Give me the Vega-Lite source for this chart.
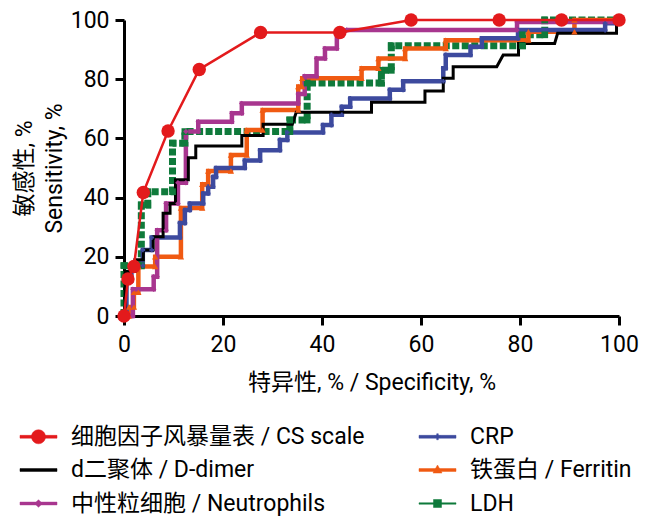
{
  "$schema": "https://vega.github.io/schema/vega-lite/v6.json",
  "width": 495,
  "height": 296,
  "autosize": "none",
  "padding": {"left": 124, "top": 20, "right": 31, "bottom": 205},
  "config": {
    "font": "Roboto, 'Noto Sans CJK SC'",
    "view": {"stroke": null},
    "axis": {
      "grid": false,
      "domainColor": "#000000",
      "domainWidth": 3,
      "tickColor": "#000000",
      "tickWidth": 3,
      "tickSize": 9,
      "labelFontSize": 23,
      "labelColor": "#000000",
      "labelFlush": false,
      "labelOverlap": false,
      "titleFontSize": 23,
      "titleFontWeight": "normal",
      "titleColor": "#000000"
    }
  },
  "data": {"values": [
    {"s":"LDH","i":0,"x":0,"y":0},{"s":"LDH","i":1,"x":0,"y":17},{"s":"LDH","i":2,"x":3.5,"y":17},{"s":"LDH","i":3,"x":3.5,"y":37.5},{"s":"LDH","i":4,"x":4.8,"y":37.5},{"s":"LDH","i":5,"x":4.8,"y":42},{"s":"LDH","i":6,"x":9.8,"y":42},{"s":"LDH","i":7,"x":9.8,"y":58.4},{"s":"LDH","i":8,"x":12.3,"y":58.4},{"s":"LDH","i":9,"x":12.3,"y":62.3},{"s":"LDH","i":10,"x":33.5,"y":62.3},{"s":"LDH","i":11,"x":33.5,"y":66.2},{"s":"LDH","i":12,"x":37,"y":66.2},{"s":"LDH","i":13,"x":37,"y":78.7},{"s":"LDH","i":14,"x":52,"y":78.7},{"s":"LDH","i":15,"x":52,"y":83},{"s":"LDH","i":16,"x":54,"y":83},{"s":"LDH","i":17,"x":54,"y":91.3},{"s":"LDH","i":18,"x":80.5,"y":91.3},{"s":"LDH","i":19,"x":80.5,"y":95},{"s":"LDH","i":20,"x":85,"y":95},{"s":"LDH","i":21,"x":85,"y":100},{"s":"LDH","i":22,"x":100,"y":100},

    {"s":"FE","i":0,"x":0,"y":0},{"s":"FE","i":1,"x":1,"y":0},{"s":"FE","i":2,"x":1,"y":3},{"s":"FE","i":3,"x":2,"y":3},{"s":"FE","i":4,"x":2,"y":8},{"s":"FE","i":5,"x":2.9,"y":8},{"s":"FE","i":6,"x":2.9,"y":16.7},{"s":"FE","i":7,"x":6.3,"y":16.7},{"s":"FE","i":8,"x":6.3,"y":20},{"s":"FE","i":9,"x":11.5,"y":20},{"s":"FE","i":10,"x":11.5,"y":36.5},{"s":"FE","i":11,"x":15.8,"y":36.5},{"s":"FE","i":12,"x":15.8,"y":44.5},{"s":"FE","i":13,"x":17,"y":44.5},{"s":"FE","i":14,"x":17,"y":49},{"s":"FE","i":15,"x":21.6,"y":49},{"s":"FE","i":16,"x":21.6,"y":54.4},{"s":"FE","i":17,"x":24.8,"y":54.4},{"s":"FE","i":18,"x":24.8,"y":62.8},{"s":"FE","i":19,"x":28,"y":62.8},{"s":"FE","i":20,"x":28,"y":69.6},{"s":"FE","i":21,"x":35.2,"y":69.6},{"s":"FE","i":22,"x":35.2,"y":77.5},{"s":"FE","i":23,"x":36,"y":77.5},{"s":"FE","i":24,"x":36,"y":80.3},{"s":"FE","i":25,"x":48,"y":80.3},{"s":"FE","i":26,"x":48,"y":83.7},{"s":"FE","i":27,"x":51.4,"y":83.7},{"s":"FE","i":28,"x":51.4,"y":87},{"s":"FE","i":29,"x":56.8,"y":87},{"s":"FE","i":30,"x":56.8,"y":90.4},{"s":"FE","i":31,"x":65,"y":90.4},{"s":"FE","i":32,"x":65,"y":93.2},{"s":"FE","i":33,"x":81.7,"y":93.2},{"s":"FE","i":34,"x":81.7,"y":96},{"s":"FE","i":35,"x":91,"y":96},{"s":"FE","i":36,"x":91,"y":100},{"s":"FE","i":37,"x":100,"y":100},

    {"s":"CRP","i":0,"x":0,"y":0},{"s":"CRP","i":1,"x":0.5,"y":0},{"s":"CRP","i":2,"x":0.5,"y":12},{"s":"CRP","i":3,"x":1.5,"y":12},{"s":"CRP","i":4,"x":1.5,"y":17},{"s":"CRP","i":5,"x":3.8,"y":17},{"s":"CRP","i":6,"x":3.8,"y":22.3},{"s":"CRP","i":7,"x":5.6,"y":22.3},{"s":"CRP","i":8,"x":5.6,"y":26.5},{"s":"CRP","i":9,"x":11.3,"y":26.5},{"s":"CRP","i":10,"x":11.3,"y":31.4},{"s":"CRP","i":11,"x":12.3,"y":31.4},{"s":"CRP","i":12,"x":12.3,"y":35.8},{"s":"CRP","i":13,"x":13.3,"y":35.8},{"s":"CRP","i":14,"x":13.3,"y":38},{"s":"CRP","i":15,"x":16,"y":38},{"s":"CRP","i":16,"x":16,"y":41.4},{"s":"CRP","i":17,"x":17,"y":41.4},{"s":"CRP","i":18,"x":17,"y":43.7},{"s":"CRP","i":19,"x":18,"y":43.7},{"s":"CRP","i":20,"x":18,"y":47},{"s":"CRP","i":21,"x":18.6,"y":47},{"s":"CRP","i":22,"x":18.6,"y":50},{"s":"CRP","i":23,"x":24.4,"y":50},{"s":"CRP","i":24,"x":24.4,"y":52.5},{"s":"CRP","i":25,"x":27.5,"y":52.5},{"s":"CRP","i":26,"x":27.5,"y":56},{"s":"CRP","i":27,"x":31.5,"y":56},{"s":"CRP","i":28,"x":31.5,"y":59.5},{"s":"CRP","i":29,"x":33,"y":59.5},{"s":"CRP","i":30,"x":33,"y":62},{"s":"CRP","i":31,"x":40.2,"y":62},{"s":"CRP","i":32,"x":40.2,"y":64.5},{"s":"CRP","i":33,"x":41.9,"y":64.5},{"s":"CRP","i":34,"x":41.9,"y":68},{"s":"CRP","i":35,"x":44,"y":68},{"s":"CRP","i":36,"x":44,"y":70.7},{"s":"CRP","i":37,"x":45.7,"y":70.7},{"s":"CRP","i":38,"x":45.7,"y":73.5},{"s":"CRP","i":39,"x":53.7,"y":73.5},{"s":"CRP","i":40,"x":53.7,"y":76.4},{"s":"CRP","i":41,"x":56.4,"y":76.4},{"s":"CRP","i":42,"x":56.4,"y":79.3},{"s":"CRP","i":43,"x":64.5,"y":79.3},{"s":"CRP","i":44,"x":64.5,"y":83.7},{"s":"CRP","i":45,"x":65,"y":83.7},{"s":"CRP","i":46,"x":65,"y":88.2},{"s":"CRP","i":47,"x":70,"y":88.2},{"s":"CRP","i":48,"x":70,"y":91},{"s":"CRP","i":49,"x":72.3,"y":91},{"s":"CRP","i":50,"x":72.3,"y":93.8},{"s":"CRP","i":51,"x":79.6,"y":93.8},{"s":"CRP","i":52,"x":79.6,"y":96.6},{"s":"CRP","i":53,"x":97.2,"y":96.6},{"s":"CRP","i":54,"x":97.2,"y":98.9},{"s":"CRP","i":55,"x":100,"y":98.9},{"s":"CRP","i":56,"x":100,"y":100},

    {"s":"NE","i":0,"x":0,"y":0},{"s":"NE","i":1,"x":1.8,"y":0},{"s":"NE","i":2,"x":1.8,"y":9},{"s":"NE","i":3,"x":6,"y":9},{"s":"NE","i":4,"x":6,"y":13.3},{"s":"NE","i":5,"x":6.7,"y":13.3},{"s":"NE","i":6,"x":6.7,"y":29},{"s":"NE","i":7,"x":8.5,"y":29},{"s":"NE","i":8,"x":8.5,"y":38},{"s":"NE","i":9,"x":10.9,"y":38},{"s":"NE","i":10,"x":10.9,"y":45},{"s":"NE","i":11,"x":12.5,"y":45},{"s":"NE","i":12,"x":12.5,"y":62.3},{"s":"NE","i":13,"x":15,"y":62.3},{"s":"NE","i":14,"x":15,"y":65.6},{"s":"NE","i":15,"x":21.8,"y":65.6},{"s":"NE","i":16,"x":21.8,"y":68.5},{"s":"NE","i":17,"x":23.8,"y":68.5},{"s":"NE","i":18,"x":23.8,"y":71.8},{"s":"NE","i":19,"x":35.2,"y":71.8},{"s":"NE","i":20,"x":35.2,"y":75},{"s":"NE","i":21,"x":36.5,"y":75},{"s":"NE","i":22,"x":36.5,"y":81},{"s":"NE","i":23,"x":38.9,"y":81},{"s":"NE","i":24,"x":38.9,"y":87},{"s":"NE","i":25,"x":40.6,"y":87},{"s":"NE","i":26,"x":40.6,"y":90.4},{"s":"NE","i":27,"x":43,"y":90.4},{"s":"NE","i":28,"x":43,"y":95.5},{"s":"NE","i":29,"x":45,"y":96.6},{"s":"NE","i":30,"x":79.4,"y":96.6},{"s":"NE","i":31,"x":79.4,"y":99.3},{"s":"NE","i":32,"x":100,"y":99.3},{"s":"NE","i":33,"x":100,"y":100},

    {"s":"DD","i":0,"x":0,"y":0},{"s":"DD","i":1,"x":0.2,"y":0},{"s":"DD","i":2,"x":0.2,"y":15},{"s":"DD","i":3,"x":2.2,"y":15},{"s":"DD","i":4,"x":2.2,"y":19},{"s":"DD","i":5,"x":3.9,"y":19},{"s":"DD","i":6,"x":3.9,"y":22.3},{"s":"DD","i":7,"x":5.9,"y":22.3},{"s":"DD","i":8,"x":5.9,"y":26.8},{"s":"DD","i":9,"x":7.9,"y":26.8},{"s":"DD","i":10,"x":7.9,"y":34.7},{"s":"DD","i":11,"x":9.3,"y":34.7},{"s":"DD","i":12,"x":9.3,"y":38},{"s":"DD","i":13,"x":10.4,"y":38},{"s":"DD","i":14,"x":10.4,"y":46},{"s":"DD","i":15,"x":13,"y":46},{"s":"DD","i":16,"x":13,"y":53.5},{"s":"DD","i":17,"x":14.5,"y":53.5},{"s":"DD","i":18,"x":14.5,"y":57.4},{"s":"DD","i":19,"x":23.8,"y":57.4},{"s":"DD","i":20,"x":23.8,"y":61},{"s":"DD","i":21,"x":28.1,"y":61},{"s":"DD","i":22,"x":28.1,"y":64.8},{"s":"DD","i":23,"x":34,"y":64.8},{"s":"DD","i":24,"x":34.8,"y":68.8},{"s":"DD","i":25,"x":50,"y":68.8},{"s":"DD","i":26,"x":50,"y":72.2},{"s":"DD","i":27,"x":60.8,"y":72.2},{"s":"DD","i":28,"x":60.8,"y":76},{"s":"DD","i":29,"x":64.5,"y":76},{"s":"DD","i":30,"x":64.5,"y":80.3},{"s":"DD","i":31,"x":66.5,"y":80.3},{"s":"DD","i":32,"x":66.5,"y":84.2},{"s":"DD","i":33,"x":75.3,"y":84.2},{"s":"DD","i":34,"x":76.6,"y":88.2},{"s":"DD","i":35,"x":79.7,"y":88.2},{"s":"DD","i":36,"x":79.7,"y":92.1},{"s":"DD","i":37,"x":87,"y":92.1},{"s":"DD","i":38,"x":87.6,"y":95.5},{"s":"DD","i":39,"x":99.5,"y":95.5},{"s":"DD","i":40,"x":99.5,"y":100},{"s":"DD","i":41,"x":100,"y":100},

    {"s":"CS","i":0,"x":0,"y":0},{"s":"CS","i":1,"x":0.8,"y":12.5},{"s":"CS","i":2,"x":2,"y":16.7},{"s":"CS","i":3,"x":3.9,"y":41.7},{"s":"CS","i":4,"x":8.9,"y":62.5},{"s":"CS","i":5,"x":15.2,"y":83.3},{"s":"CS","i":6,"x":27.6,"y":95.8},{"s":"CS","i":7,"x":43.6,"y":95.8},{"s":"CS","i":8,"x":58,"y":100},{"s":"CS","i":9,"x":75.8,"y":100},{"s":"CS","i":10,"x":88.4,"y":100},{"s":"CS","i":11,"x":100,"y":100}
  ]},
  "encoding": {
    "x": {
      "field": "x", "type": "quantitative",
      "scale": {"domain": [0, 100], "nice": false},
      "axis": {"values": [0, 20, 40, 60, 80, 100], "title": "特异性, % / Specificity, %", "labelPadding": 8, "titlePadding": 15}
    },
    "y": {
      "field": "y", "type": "quantitative",
      "scale": {"domain": [0, 100], "nice": false},
      "axis": {"values": [0, 20, 40, 60, 80, 100], "title": ["敏感性, %", "Sensitivity, %"], "titleLineHeight": 30, "labelPadding": 6, "titlePadding": 4}
    },
    "color": {
      "field": "s", "type": "nominal",
      "scale": {
        "domain": ["CS", "DD", "NE", "CRP", "FE", "LDH"],
        "range": ["#E31A1C", "#000000", "#A8368F", "#3D4A9E", "#F05A12", "#0F7A3B"]
      },
      "legend": {
        "title": null,
        "orient": "none",
        "legendX": -97,
        "legendY": 405,
        "columns": 2,
        "columnPadding": 53,
        "rowPadding": 9.5,
        "padding": 0,
        "symbolSize": 400,
        "symbolOpacity": 1,
        "symbolStrokeWidth": 0.5,
        "labelOffset": 21,
        "labelFontSize": 23,
        "labelColor": "#000000",
        "labelLimit": 500,
        "labelExpr": "datum.value === 'CS' ? '细胞因子风暴量表 / CS scale' : datum.value === 'DD' ? 'd二聚体 / D-dimer' : datum.value === 'NE' ? '中性粒细胞 / Neutrophils' : datum.value === 'FE' ? '铁蛋白 / Ferritin' : datum.label"
      }
    }
  },
  "layer": [
    {
      "transform": [{"filter": "datum.i === 0"}],
      "mark": {"type": "point", "filled": true, "opacity": 0, "size": 400},
      "encoding": {
        "shape": {
          "field": "s", "type": "nominal",
          "scale": {
            "domain": ["CS", "DD", "NE", "CRP", "FE", "LDH"],
            "range": [
              "M-1.85,-0.14H1.85V0.14H-1.85ZM0.7,0C0.7,0.387,0.387,0.7,0,0.7C-0.387,0.7,-0.7,0.387,-0.7,0C-0.7,-0.387,-0.387,-0.7,0,-0.7C0.387,-0.7,0.7,-0.387,0.7,0Z",
              "M-1.85,-0.14H1.85V0.14H-1.85Z",
              "M-1.85,-0.14H1.85V0.14H-1.85ZM0,-0.38L0.38,0L0,0.38L-0.38,0Z",
              "M-1.85,-0.14H1.85V0.14H-1.85ZM-0.3,-0.08H0.3V0.08H-0.3ZM-0.08,-0.3H0.08V0.3H-0.08Z",
              "M-1.85,-0.14H1.85V0.14H-1.85ZM0,-0.5L0.45,0.3L-0.45,0.3Z",
              "M-1.85,-0.07H1.85V0.07H-1.85ZM-0.4,-0.4H0.4V0.4H-0.4Z"
            ]
          },
          "legend": {
            "title": null,
            "orient": "none",
            "legendX": -97,
            "legendY": 405,
            "columns": 2,
            "columnPadding": 53,
            "rowPadding": 9.5,
            "padding": 0,
            "symbolSize": 400,
            "symbolOpacity": 1,
            "symbolStrokeWidth": 0.5,
            "labelOffset": 21,
            "labelFontSize": 23,
            "labelColor": "#000000",
            "labelLimit": 500,
            "labelExpr": "datum.value === 'CS' ? '细胞因子风暴量表 / CS scale' : datum.value === 'DD' ? 'd二聚体 / D-dimer' : datum.value === 'NE' ? '中性粒细胞 / Neutrophils' : datum.value === 'FE' ? '铁蛋白 / Ferritin' : datum.label"
          }
        }
      }
    },
    {
      "transform": [{"filter": "datum.s === 'LDH'"}],
      "mark": {"type": "line", "strokeWidth": 7, "strokeDash": [7, 2.5]},
      "encoding": {"order": {"field": "i", "type": "quantitative"}}
    },
    {
      "transform": [{"filter": "datum.s === 'FE' || datum.s === 'CRP' || datum.s === 'NE'"}],
      "mark": {"type": "line", "strokeWidth": 4.5, "strokeJoin": "miter"},
      "encoding": {"order": {"field": "i", "type": "quantitative"}}
    },
    {
      "transform": [{"filter": "datum.s === 'DD'"}],
      "mark": {"type": "line", "strokeWidth": 3, "strokeJoin": "miter"},
      "encoding": {"order": {"field": "i", "type": "quantitative"}}
    },
    {
      "transform": [{"filter": "datum.s === 'LDH'"}],
      "mark": {"type": "point", "filled": true, "opacity": 1, "shape": "square", "size": 45}
    },
    {
      "transform": [{"filter": "datum.s === 'FE'"}],
      "mark": {"type": "point", "filled": true, "opacity": 1, "shape": "triangle-up", "size": 40}
    },
    {
      "transform": [{"filter": "datum.s === 'CRP'"}],
      "mark": {"type": "point", "filled": true, "opacity": 1, "shape": "cross", "size": 22}
    },
    {
      "transform": [{"filter": "datum.s === 'NE'"}],
      "mark": {"type": "point", "filled": true, "opacity": 1, "shape": "diamond", "size": 30}
    },
    {
      "transform": [{"filter": "datum.s === 'CS'"}],
      "mark": {"type": "line", "strokeWidth": 2.5},
      "encoding": {"order": {"field": "i", "type": "quantitative"}}
    },
    {
      "transform": [{"filter": "datum.s === 'CS'"}],
      "mark": {"type": "point", "filled": true, "opacity": 1, "size": 180, "shape": "circle"}
    }
  ]
}
